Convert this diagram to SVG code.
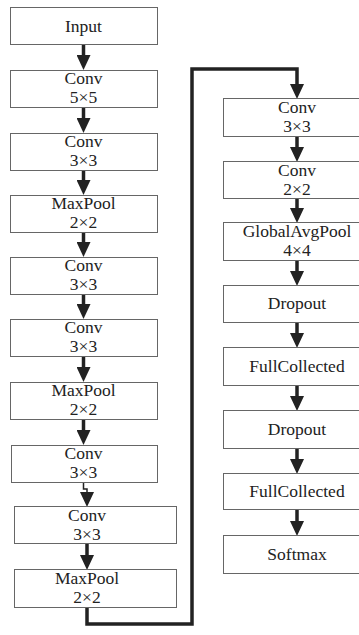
<svg xmlns="http://www.w3.org/2000/svg" width="359" height="635" viewBox="0 0 359 635">
<style>
.box{fill:#fff;stroke:#666;stroke-width:1}
text{font-family:"Liberation Serif","Times New Roman",Times,serif;font-size:17.5px;fill:#222;text-anchor:middle}
.c{fill:none;stroke:#222;stroke-width:3.5}
.t{fill:none;stroke:#222;stroke-width:1.5}
</style>
<defs>
<marker id="ah" markerUnits="userSpaceOnUse" markerWidth="15" markerHeight="14" viewBox="0 0 15 14" refX="0" refY="7" orient="auto">
<path d="M0,0 L15,7 L0,14 z" fill="#222"/>
</marker>
</defs>
<rect width="359" height="635" fill="#fff"/>
<g id="connectors">
<line class="c" x1="83.5" y1="44" x2="83.5" y2="55" marker-end="url(#ah)"/>
<line class="c" x1="83.5" y1="107" x2="83.5" y2="118" marker-end="url(#ah)"/>
<line class="c" x1="83.5" y1="170" x2="83.5" y2="180" marker-end="url(#ah)"/>
<line class="c" x1="83.5" y1="232" x2="83.5" y2="242" marker-end="url(#ah)"/>
<line class="c" x1="83.5" y1="294" x2="83.5" y2="304" marker-end="url(#ah)"/>
<line class="c" x1="83.5" y1="357" x2="83.5" y2="367" marker-end="url(#ah)"/>
<line class="c" x1="83.5" y1="419" x2="83.5" y2="430" marker-end="url(#ah)"/>
<path class="t" d="M83.5,482 V489 H87 V492" marker-end="url(#ah)"/>
<line class="c" x1="87" y1="543" x2="87" y2="555" marker-end="url(#ah)"/>
<path class="c" d="M87,607 V624 H192 V69 H297 V84" marker-end="url(#ah)"/>
<line class="c" x1="297" y1="136" x2="297" y2="147" marker-end="url(#ah)"/>
<line class="c" x1="297" y1="198" x2="297" y2="208" marker-end="url(#ah)"/>
<line class="c" x1="297" y1="260" x2="297" y2="271" marker-end="url(#ah)"/>
<line class="c" x1="297" y1="322" x2="297" y2="333" marker-end="url(#ah)"/>
<line class="c" x1="297" y1="385" x2="297" y2="396" marker-end="url(#ah)"/>
<line class="c" x1="297" y1="448" x2="297" y2="459" marker-end="url(#ah)"/>
<line class="c" x1="297" y1="509" x2="297" y2="521" marker-end="url(#ah)"/>
</g>
<g id="n1"><rect class="box" x="10.5" y="7.5" width="147" height="37"/><text x="83.5" y="32">Input</text></g>
<g id="n2"><rect class="box" x="10.5" y="70.5" width="147" height="37"/><text x="83.5" y="84">Conv</text><text x="83.5" y="103">5×5</text></g>
<g id="n3"><rect class="box" x="10.5" y="133.5" width="147" height="37"/><text x="83.5" y="147">Conv</text><text x="83.5" y="166">3×3</text></g>
<g id="n4"><rect class="box" x="10.5" y="195.5" width="147" height="37"/><text x="83.5" y="209">MaxPool</text><text x="83.5" y="228">2×2</text></g>
<g id="n5"><rect class="box" x="10.5" y="257.5" width="147" height="37"/><text x="83.5" y="271">Conv</text><text x="83.5" y="290">3×3</text></g>
<g id="n6"><rect class="box" x="10.5" y="319.5" width="147" height="37"/><text x="83.5" y="333">Conv</text><text x="83.5" y="352">3×3</text></g>
<g id="n7"><rect class="box" x="10.5" y="382.5" width="147" height="37"/><text x="83.5" y="396">MaxPool</text><text x="83.5" y="415">2×2</text></g>
<g id="n8"><rect class="box" x="11.5" y="445.5" width="146" height="37"/><text x="83.5" y="459">Conv</text><text x="83.5" y="478">3×3</text></g>
<g id="n9"><rect class="box" x="14.5" y="506.5" width="162" height="37"/><text x="87" y="521">Conv</text><text x="87" y="540">3×3</text></g>
<g id="n10"><rect class="box" x="14.5" y="569.5" width="162" height="38"/><text x="87" y="584">MaxPool</text><text x="87" y="603">2×2</text></g>
<g id="n11"><rect class="box" x="223.5" y="98.5" width="148" height="38"/><text x="297" y="113">Conv</text><text x="297" y="132">3×3</text></g>
<g id="n12"><rect class="box" x="223.5" y="161.5" width="148" height="37"/><text x="297" y="176">Conv</text><text x="297" y="195">2×2</text></g>
<g id="n13"><rect class="box" x="223.5" y="222.5" width="148" height="38"/><text x="297" y="237">GlobalAvgPool</text><text x="297" y="256">4×4</text></g>
<g id="n14"><rect class="box" x="223.5" y="285.5" width="148" height="37"/><text x="297" y="309">Dropout</text></g>
<g id="n15"><rect class="box" x="223.5" y="347.5" width="148" height="38"/><text x="297" y="372">FullCollected</text></g>
<g id="n16"><rect class="box" x="223.5" y="410.5" width="148" height="38"/><text x="297" y="435">Dropout</text></g>
<g id="n17"><rect class="box" x="223.5" y="473.5" width="148" height="36"/><text x="297" y="497">FullCollected</text></g>
<g id="n18"><rect class="box" x="223.5" y="535.5" width="148" height="38"/><text x="297" y="560">Softmax</text></g>
</svg>
